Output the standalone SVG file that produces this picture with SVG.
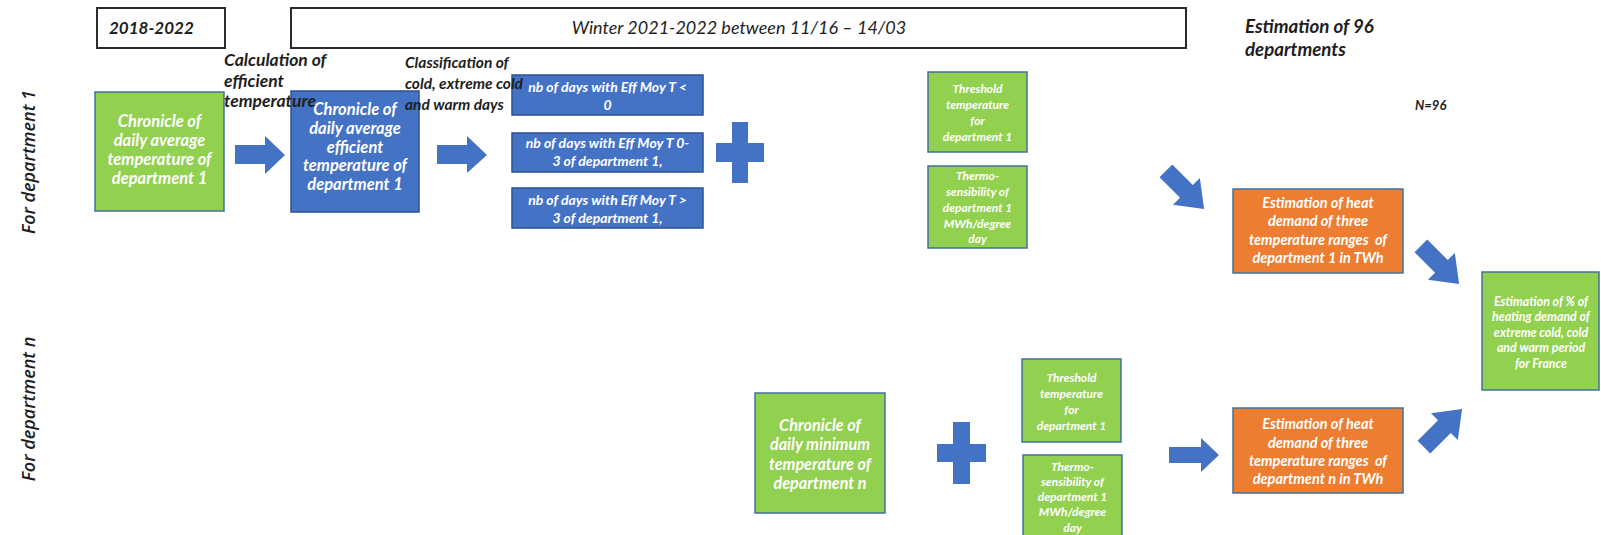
<svg xmlns="http://www.w3.org/2000/svg" width="1601" height="535" viewBox="0 0 1601 535">
<style>
.bg{fill:#ffffff}
.frame{fill:#ffffff;stroke:#2b2b2b;stroke-width:2}
.green{fill:#92D050;stroke:#41719C;stroke-width:1.5}
.blue{fill:#4472C4;stroke:#2F528F;stroke-width:1.5}
.orange{fill:#ED7D31;stroke:#41719C;stroke-width:1.5}
.arrow{fill:#4472C4}
text{font-family:Lato,"Open Sans","Liberation Sans",sans-serif;font-style:italic}
.w{fill:#ffffff;font-weight:bold;text-anchor:middle}
.k{fill:#1e1e1e}
.kb{fill:#1e1e1e;font-weight:bold}
.side{fill:#1e1e1e;font-family:"Open Sans","Liberation Sans",sans-serif;font-weight:600;text-anchor:middle}
</style>
<defs>
<polygon id="darrow" points="-27,-9 2,-9 2,-19 27,0 2,19 2,9 -27,9"/>
</defs>
<rect class="bg" x="0" y="0" width="1601" height="535"/>

<g id="side-labels">
<text class="side" font-size="18" transform="translate(35,162) rotate(-90)">For department 1</text>
<text class="side" font-size="18" transform="translate(35,409) rotate(-90)">For department n</text>
</g>

<g id="period-2018">
<rect class="frame" x="97" y="8" width="128" height="40"/>
<text class="kb" font-size="17" x="109" y="34">2018-2022</text>
</g>
<g id="period-winter">
<rect class="frame" x="291" y="8" width="895" height="40"/>
<text class="k" font-size="18" x="739" y="34" text-anchor="middle">Winter 2021-2022 between 11/16 – 14/03</text>
</g>

<g id="chronicle-avg-1">
<rect class="green" x="95" y="92" width="129" height="119"/>
<text class="w" font-size="16.5"><tspan x="159.5" y="127">Chronicle of</tspan><tspan x="159.5" y="146">daily average</tspan><tspan x="159.5" y="165">temperature of</tspan><tspan x="159.5" y="184">department 1</tspan></text>
</g>

<g id="chronicle-eff-1">
<rect class="blue" x="291" y="91" width="128" height="121"/>
<text class="w" font-size="16.5"><tspan x="355" y="115">Chronicle of</tspan><tspan x="355" y="134">daily average</tspan><tspan x="355" y="153">efficient</tspan><tspan x="355" y="171">temperature of</tspan><tspan x="355" y="190">department 1</tspan></text>
</g>

<g id="days-below-0">
<rect class="blue" x="512" y="75" width="191" height="40"/>
<text class="w" font-size="14"><tspan x="607.5" y="92">nb of days with Eff Moy T &lt;</tspan><tspan x="607.5" y="110">0</tspan></text>
</g>
<g id="days-0-3">
<rect class="blue" x="512" y="133" width="191" height="39"/>
<text class="w" font-size="14"><tspan x="607.5" y="148">nb of days with Eff Moy T 0-</tspan><tspan x="607.5" y="166">3 of department 1,</tspan></text>
</g>
<g id="days-above-3">
<rect class="blue" x="512" y="188" width="191" height="40"/>
<text class="w" font-size="14"><tspan x="607.5" y="205">nb of days with Eff Moy T &gt;</tspan><tspan x="607.5" y="223">3 of department 1,</tspan></text>
</g>

<g id="threshold-1">
<rect class="green" x="928" y="72" width="99" height="80"/>
<text class="w" font-size="12"><tspan x="977.5" y="93">Threshold</tspan><tspan x="977.5" y="109">temperature</tspan><tspan x="977.5" y="125">for</tspan><tspan x="977.5" y="141">department 1</tspan></text>
</g>
<g id="thermo-1">
<rect class="green" x="928" y="166" width="99" height="82"/>
<text class="w" font-size="12"><tspan x="977.5" y="180">Thermo-</tspan><tspan x="977.5" y="196">sensibility of</tspan><tspan x="977.5" y="212">department 1</tspan><tspan x="977.5" y="228">MWh/degree</tspan><tspan x="977.5" y="243">day</tspan></text>
</g>

<g id="heat-demand-1">
<rect class="orange" x="1233" y="189" width="170" height="84"/>
<text class="w" font-size="14.5"><tspan x="1318" y="208">Estimation of heat</tspan><tspan x="1318" y="226">demand of three</tspan><tspan x="1318" y="245">temperature ranges&#160; of</tspan><tspan x="1318" y="263">department 1 in TWh</tspan></text>
</g>

<g id="france-share">
<rect class="green" x="1482" y="272" width="117" height="118"/>
<text class="w" font-size="12.4"><tspan x="1541" y="306">Estimation of % of</tspan><tspan x="1541" y="321">heating demand of</tspan><tspan x="1541" y="337">extreme cold, cold</tspan><tspan x="1541" y="352">and warm period</tspan><tspan x="1541" y="368">for France</tspan></text>
</g>

<g id="chronicle-min-n">
<rect class="green" x="755" y="393" width="130" height="120"/>
<text class="w" font-size="16.2"><tspan x="820" y="431">Chronicle of</tspan><tspan x="820" y="450">daily minimum</tspan><tspan x="820" y="470">temperature of</tspan><tspan x="820" y="489">department n</tspan></text>
</g>

<g id="threshold-n">
<rect class="green" x="1022" y="359" width="99" height="83"/>
<text class="w" font-size="12"><tspan x="1071.5" y="382">Threshold</tspan><tspan x="1071.5" y="398">temperature</tspan><tspan x="1071.5" y="414">for</tspan><tspan x="1071.5" y="430">department 1</tspan></text>
</g>
<g id="thermo-n">
<rect class="green" x="1023" y="455" width="99" height="82"/>
<text class="w" font-size="12"><tspan x="1072.5" y="471">Thermo-</tspan><tspan x="1072.5" y="486">sensibility of</tspan><tspan x="1072.5" y="501">department 1</tspan><tspan x="1072.5" y="516">MWh/degree</tspan><tspan x="1072.5" y="532">day</tspan></text>
</g>

<g id="heat-demand-n">
<rect class="orange" x="1233" y="408" width="170" height="85"/>
<text class="w" font-size="14.5"><tspan x="1318" y="429">Estimation of heat</tspan><tspan x="1318" y="448">demand of three</tspan><tspan x="1318" y="466">temperature ranges&#160; of</tspan><tspan x="1318" y="484">department n in TWh</tspan></text>
</g>

<g id="step-labels">
<text class="kb" font-size="17.5"><tspan x="224" y="66">Calculation of</tspan><tspan x="224" y="87">efficient</tspan><tspan x="224" y="107">temperature</tspan></text>
<text class="kb" font-size="15.5"><tspan x="405" y="68">Classification of</tspan><tspan x="405" y="89">cold, extreme cold</tspan><tspan x="405" y="110">and warm days</tspan></text>
<text class="kb" font-size="18.7"><tspan x="1245" y="33">Estimation of 96</tspan><tspan x="1245" y="56">departments</tspan></text>
<text class="kb" font-size="13" x="1415" y="110">N=96</text>
</g>

<g id="connectors">
<polygon class="arrow" points="235,145 265,145 265,136 285,155 265,174 265,164 235,164"/>
<polygon class="arrow" points="437,145 467,145 467,136 487,155 467,173 467,164 437,164"/>
<path class="arrow" d="M716,143 H732 V122 H748 V143 H764 V162 H748 V183 H732 V162 H716 Z"/>
<use href="#darrow" class="arrow" transform="translate(1185,190) rotate(45)"/>
<use href="#darrow" class="arrow" transform="translate(1440,265) rotate(45)"/>
<path class="arrow" d="M937,444 H953 V422 H970 V444 H986 V462 H970 V484 H953 V462 H937 Z"/>
<polygon class="arrow" points="1169,447 1201,447 1201,438 1219,455 1201,472 1201,463 1169,463"/>
<use href="#darrow" class="arrow" transform="translate(1443,428) rotate(-45)"/>
</g>
</svg>
